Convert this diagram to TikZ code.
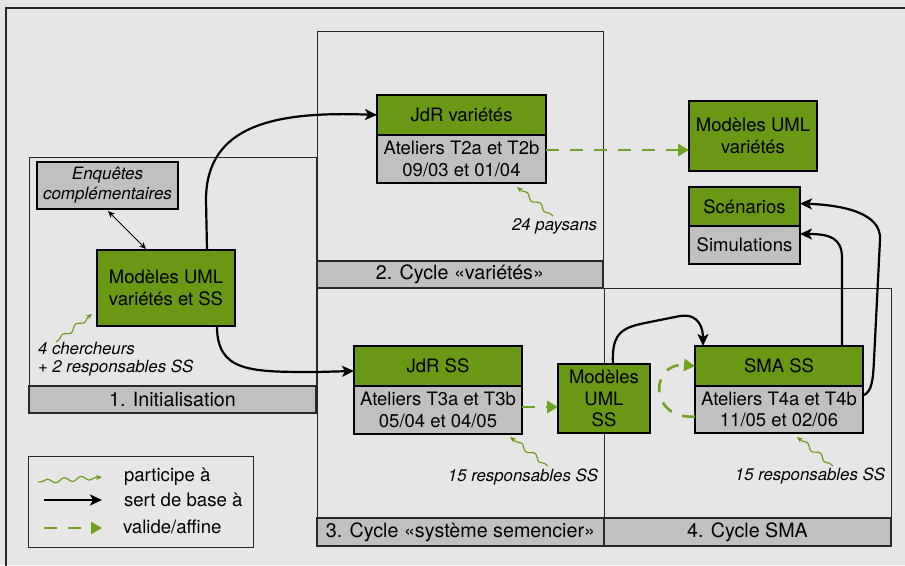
\documentclass[tikz,border=0pt]{standalone}
\usepackage{fontspec}
\setmainfont{TeX Gyre Heros}
\usetikzlibrary{arrows.meta,decorations.pathmorphing}
\definecolor{grn}{RGB}{104,152,20}
\definecolor{dgrn}{RGB}{112,162,36}
\definecolor{bx}{RGB}{192,192,192}
\definecolor{bg}{RGB}{230,230,230}
\definecolor{frm}{RGB}{40,40,40}
\begin{document}
\begin{tikzpicture}[x=1pt,y=-1pt,
  every node/.style={inner sep=0pt, outer sep=0pt, align=center, text=black},
  boxtxt/.style={font=\fontsize{18.5}{21.5}\selectfont},
  gbox/.style={boxtxt, draw=black, line width=1.1pt, fill=grn},
  ybox/.style={boxtxt, draw=black, line width=1.1pt, fill=bx},
  bar/.style={font=\fontsize{19.7}{22}\selectfont, draw=frm, line width=1.1pt, fill=bx},
  panel/.style={draw=frm, line width=1pt},
  itx/.style={font=\fontsize{16.8}{19}\selectfont\itshape},
  lgtx/.style={font=\fontsize{18.6}{21}\selectfont, anchor=west},
  base/.style={line width=2.2pt, -{Stealth[length=12pt,width=11pt,inset=3pt]}},
  valid/.style={dgrn, line width=2.6pt, dash pattern=on 13pt off 11pt, -{Triangle[length=11pt,width=12pt]}},
  part/.style={grn, line width=1.1pt, decorate,
    decoration={snake, segment length=17pt, amplitude=2.2pt, pre length=4pt, post length=5pt},
    -{Stealth[length=6pt,width=5pt]}},
]
\fill[bg] (0,0) rectangle (905,565);
\useasboundingbox (0,0) rectangle (905,565);
\draw[frm, line width=1.5pt] (6,580) -- (6,8) -- (920,8);

% panels
\draw[panel] (29,157) rectangle (316,413);
\draw[panel] (317,31) rectangle (603,288);
\draw[panel] (317,288) rectangle (604,546);
\draw[panel] (604,288) rectangle (891,546);

\node[bar, minimum width=287pt, minimum height=27pt] (b1) at (172.5,399.5) {1. Initialisation};
\node[bar, minimum width=286pt, minimum height=27pt] (b2) at (460,274.5) {2. Cycle «variétés»};
\node[bar, minimum width=287pt, minimum height=28pt] (b3) at (460.5,532) {3. Cycle «système semencier»};
\node[bar, minimum width=287pt, minimum height=28pt] (b4) at (747.5,532) {4. Cycle SMA};

% boxes
\node[ybox, font=\fontsize{17}{20}\selectfont\itshape, minimum width=141pt, minimum height=47pt] (enq) at (107.5,185.5) {Enquêtes\\complémentaires};
\node[gbox, minimum width=138pt, minimum height=76pt] (uml1) at (166,288) {Modèles UML\\variétés et SS};

\node[gbox, minimum width=169pt, minimum height=40pt] (jdrv1) at (461.5,115) {JdR variétés};
\node[ybox, minimum width=169pt, minimum height=48pt] (jdrv2) at (461.5,159) {Ateliers T2a et T2b\\09/03 et 01/04};

\node[gbox, minimum width=128pt, minimum height=70pt] (umlv) at (753,136) {Modèles UML\\variétés};
\node[gbox, minimum width=111pt, minimum height=39pt] (scen) at (744.5,206.5) {Scénarios};
\node[ybox, minimum width=111pt, minimum height=38pt] (simu) at (744.5,245) {Simulations};

\node[gbox, minimum width=168pt, minimum height=40pt] (jdrss1) at (438,366) {JdR SS};
\node[ybox, minimum width=168pt, minimum height=48pt] (jdrss2) at (438,410) {Ateliers T3a et T3b\\05/04 et 04/05};

\node[gbox, minimum width=92pt, minimum height=69pt] (umlss) at (604,398.5) {Modèles\\UML\\SS};

\node[gbox, minimum width=168pt, minimum height=40pt] (sma1) at (779,366) {SMA SS};
\node[ybox, minimum width=168pt, minimum height=47pt] (sma2) at (779,409.5) {Ateliers T4a et T4b\\11/05 et 02/06};

% italic labels
\node[itx, font=\fontsize{16.8}{18}\selectfont\itshape, align=left, anchor=west] (t1) at (38,359) {4 chercheurs\\+ 2 responsables SS};
\node[itx, anchor=east] (t2) at (597,226) {24 paysans};
\node[itx, anchor=east] (t3) at (598,477) {15 responsables SS};
\node[itx, anchor=east] (t4) at (885,476) {15 responsables SS};

% snake connectors
\coordinate (s1) at (56,342);
\coordinate (s2) at (553,216);
\coordinate (s3) at (548,466);
\coordinate (s4) at (833,466);
\draw[part] (s1) -- ([xshift=-5pt,yshift=12pt]uml1.south west);
\draw[part] (s2) -- ([xshift=55.5pt,yshift=-4pt]jdrv2.south);
\draw[part] (s3) -- ([xshift=72pt,yshift=-3pt]jdrss2.south);
\draw[part] (s4) -- ([xshift=18pt,yshift=-4pt]sma2.south);

% double arrow
\draw[line width=0.9pt, {Stealth[length=7pt,width=6pt]}-{Stealth[length=7pt,width=6pt]}]
  ([xshift=0.5pt,yshift=-2pt]enq.south) -- ([xshift=-20pt,yshift=1pt]uml1.north);

% black connectors
\draw[base] ([xshift=41pt]uml1.north) -- (206,200) .. controls (206,125) and (275,111) .. (jdrv1.west);
\draw[base] ([xshift=51pt]uml1.south) .. controls (217,372) and (250,372) .. (316,372) -- ([yshift=-5pt]jdrss1.west);
\draw[base] ([xshift=9pt]umlss.north) .. controls (611,330) and (625,327) .. (650,322) -- (680,316) .. controls (700,313) and (703,330) .. ([xshift=-76pt]sma1.north);
\draw[base] ([xshift=63pt]sma1.north) -- (842,258) .. controls (842,238) and (830,234) .. ([yshift=11pt]simu.east);
\draw[base] ([yshift=14pt]sma2.east) .. controls (872,392) and (873,380) .. (874,360) -- (880,240) .. controls (882,212) and (840,205) .. ([yshift=3pt]scen.east);

% green dashed connectors
\draw[valid] ([yshift=9pt]jdrv2.east) -- ([yshift=-14pt]umlv.west);
\draw[valid] ([yshift=3pt]jdrss2.east) -- ([yshift=-8.5pt]umlss.west);
\draw[valid] ([yshift=-7pt]sma2.west) .. controls (648,420) and (650,362) .. (sma1.west);

% legend
\draw[line width=1pt, draw=frm] (28,456) rectangle (253,547);
\coordinate (l1a) at (38,482);
\coordinate (l1b) at (102,477);
\coordinate (l2a) at (44,500);
\coordinate (l2b) at (102,500);
\coordinate (l3a) at (44,528);
\coordinate (l3b) at (102,528);
\draw[part] (l1a) -- (l1b);
\draw[base] (l2a) -- (l2b);
\draw[valid] (l3a) -- (l3b);
\node[lgtx] (lg1) at (124,477) {participe à};
\node[lgtx] (lg2) at (124,500) {sert de base à};
\node[lgtx] (lg3) at (123,527) {valide/affine};
\end{tikzpicture}
\end{document}
